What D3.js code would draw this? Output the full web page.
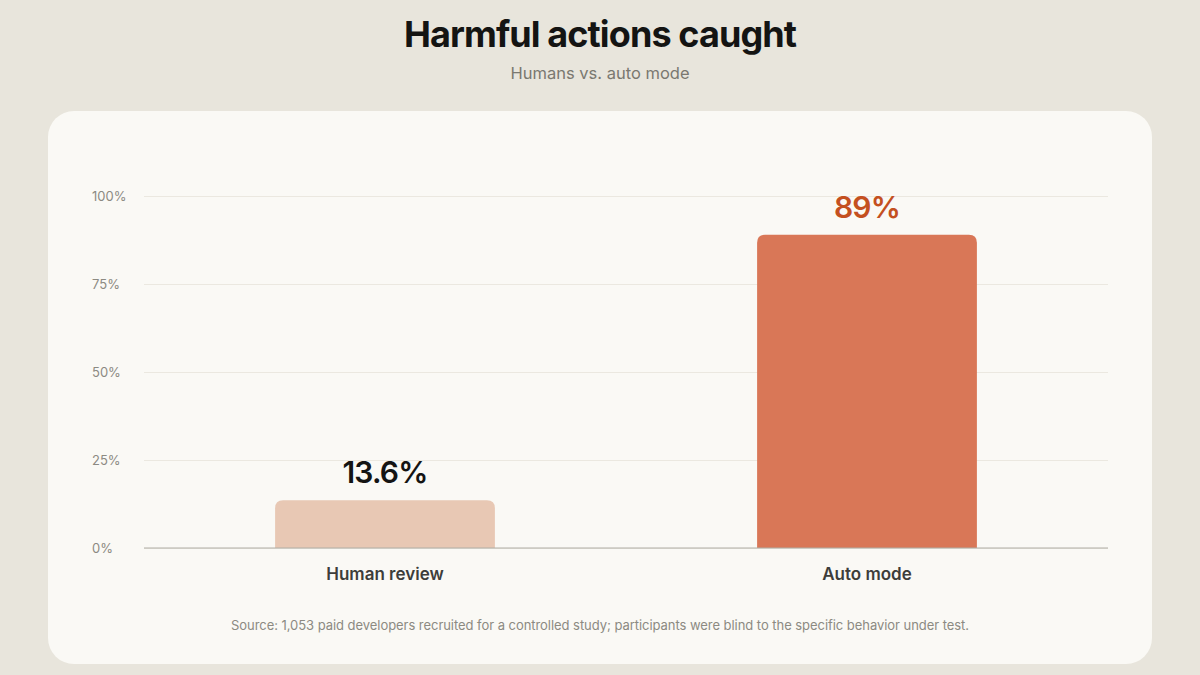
<!DOCTYPE html>
<html>
<head>
<meta charset="utf-8">
<script src="https://cdn.jsdelivr.net/npm/d3@7"></script>
<style>
  html, body { margin: 0; padding: 0; background: #e8e5dc; }
  #chart { width: 1200px; height: 675px; }
  text { font-family: Inter, "Noto Sans", sans-serif; }
</style>
</head>
<body>
<div id="chart"></div>
<script>
// Harmful actions caught: human review vs. auto mode

const categories = ["Human review", "Auto mode"];
const values = [13.6, 89];
const valueLabels = ["13.6%", "89%"];
const ticks = [0, 25, 50, 75, 100];

const W = 1200, H = 675;
const plot = { left: 144, right: 1108, top: 196, bottom: 548 };

const svg = d3.select("#chart")
    .append("svg")
    .attr("width", W)
    .attr("height", H);

// Background + card
svg.append("rect")
    .attr("width", W).attr("height", H)
    .attr("fill", "#e8e5dc");

svg.append("rect")
    .attr("x", 48).attr("y", 111)
    .attr("width", 1104).attr("height", 553)
    .attr("rx", 26)
    .attr("fill", "#faf9f5");

// Title + subtitle
svg.append("text")
    .attr("x", W / 2).attr("y", 47)
    .attr("text-anchor", "middle")
    .style("font-size", "36px")
    .style("font-weight", 700)
    .style("letter-spacing", "-0.9px")
    .attr("fill", "#141413")
    .text("Harmful actions caught");

svg.append("text")
    .attr("x", W / 2).attr("y", 79)
    .attr("text-anchor", "middle")
    .style("font-size", "16.5px")
    .attr("fill", "#7a7870")
    .text("Humans vs. auto mode");

// Scales
const x = d3.scaleBand()
    .domain(categories)
    .range([plot.left, plot.right])
    .padding(0);

const barW = x.bandwidth() * 0.456;

const y = d3.scaleLinear()
    .domain([0, 100])
    .range([plot.bottom, plot.top]);

// Gridlines
const yAxis = svg.append("g")
    .attr("transform", `translate(${plot.left},0)`)
    .call(d3.axisLeft(y)
        .tickValues(ticks)
        .tickSize(-(plot.right - plot.left))
        .tickFormat(d => d + "%"));

yAxis.select(".domain").remove();
yAxis.selectAll(".tick line")
    .attr("stroke", "#ebe8e0")
    .attr("stroke-width", 1);
yAxis.selectAll(".tick text")
    .attr("x", 92 - plot.left)
    .attr("dy", "0.32em")
    .attr("text-anchor", "start")
    .style("font-size", "13px")
    .attr("fill", "#8c8a82");

// Bars, rounded on top only
const r = 8;
const barColors = ["#e8c8b4", "#d97757"];
function topRounded(x0, y0, w, h) {
    return `M${x0},${y0 + h}V${y0 + r}Q${x0},${y0} ${x0 + r},${y0}` +
        `H${x0 + w - r}Q${x0 + w},${y0} ${x0 + w},${y0 + r}V${y0 + h}Z`;
}

svg.selectAll("path.bar")
    .data(categories)
    .enter()
    .append("path")
    .attr("class", "bar")
    .attr("d", (d, i) => {
        const cx = x(d) + x.bandwidth() / 2;
        return topRounded(cx - barW / 2, y(values[i]), barW, y(0) - y(values[i]));
    })
    .attr("fill", (d, i) => barColors[i]);

// Baseline
svg.append("line")
    .attr("x1", plot.left).attr("x2", plot.right)
    .attr("y1", y(0)).attr("y2", y(0))
    .attr("stroke", "#b0aea5")
    .attr("stroke-width", 1.2);

// Value labels
const labelColors = ["#141413", "#c4501f"];
svg.selectAll("text.value")
    .data(categories)
    .enter()
    .append("text")
    .attr("class", "value")
    .attr("x", d => x(d) + x.bandwidth() / 2)
    .attr("y", (d, i) => y(values[i]) - 17)
    .attr("text-anchor", "middle")
    .style("font-size", "30px")
    .style("font-weight", 600)
    .style("letter-spacing", "-0.8px")
    .attr("fill", (d, i) => labelColors[i])
    .text((d, i) => valueLabels[i]);

// Category labels
svg.selectAll("text.cat")
    .data(categories)
    .enter()
    .append("text")
    .attr("class", "cat")
    .attr("x", d => x(d) + x.bandwidth() / 2)
    .attr("y", 580)
    .attr("text-anchor", "middle")
    .style("font-size", "17px")
    .style("font-weight", 600)
    .attr("fill", "#3d3d3a")
    .text(d => d);

// Source note
svg.append("text")
    .attr("x", W / 2).attr("y", 630)
    .attr("text-anchor", "middle")
    .style("font-size", "13px")
    .style("letter-spacing", "-0.05px")
    .attr("fill", "#8c8a82")
    .text("Source: 1,053 paid developers recruited for a controlled study; participants were blind to the specific behavior under test.");
</script>
</body>
</html>
